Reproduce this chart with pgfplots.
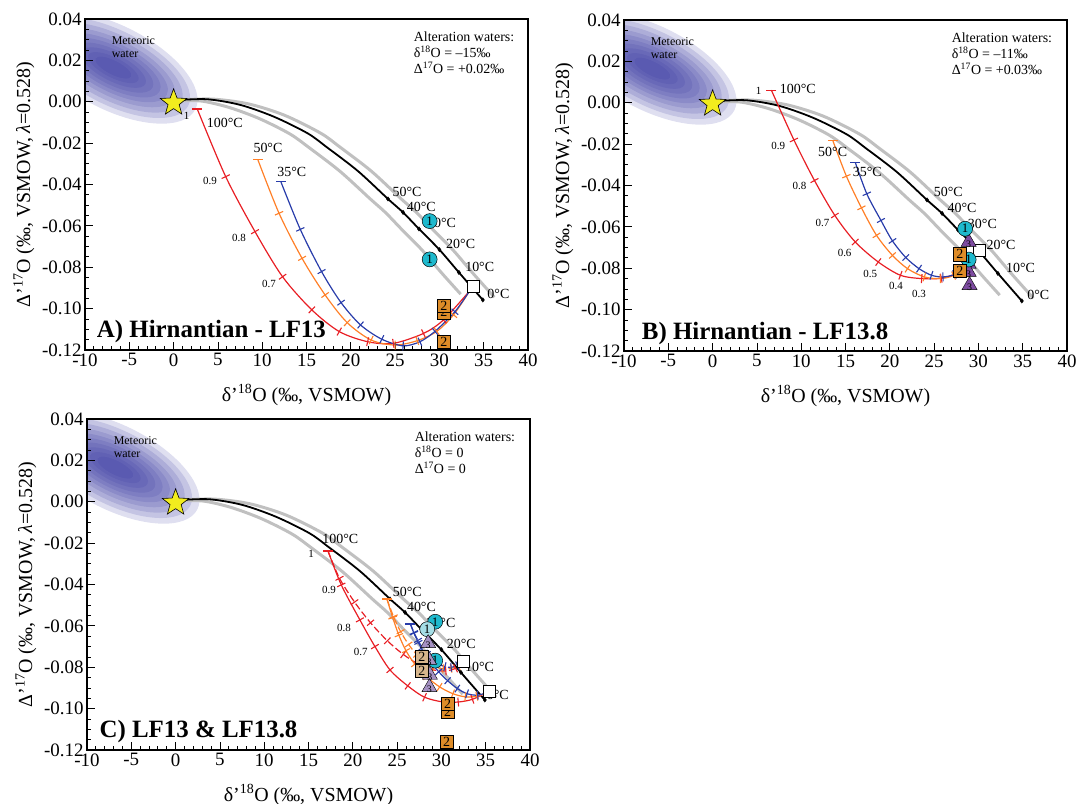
\documentclass[border=0pt]{standalone}
\usepackage{fontspec}
\setmainfont{Liberation Serif}
\usepackage{pgfplots}
\pgfplotsset{compat=1.18}

\definecolor{redl}{RGB}{232,30,36}
\definecolor{orangel}{RGB}{255,127,39}
\definecolor{bluel}{RGB}{40,60,170}
\definecolor{grayl}{RGB}{192,192,192}
\definecolor{cyanM}{RGB}{30,185,205}
\definecolor{cyanL}{RGB}{165,222,230}
\definecolor{orangeM}{RGB}{222,140,40}
\definecolor{tanM}{RGB}{215,182,140}
\definecolor{purpM}{RGB}{125,75,160}
\definecolor{purpL}{RGB}{165,145,195}
\definecolor{starY}{RGB}{242,236,30}
\definecolor{meteo}{RGB}{55,55,160}

\pgfdeclareplotmark{fstar}{%
  \pgfpathmoveto{\pgfpointpolar{90}{\pgfplotmarksize}}%
  \pgfpathlineto{\pgfpointpolar{126}{0.42\pgfplotmarksize}}%
  \pgfpathlineto{\pgfpointpolar{162}{\pgfplotmarksize}}%
  \pgfpathlineto{\pgfpointpolar{198}{0.42\pgfplotmarksize}}%
  \pgfpathlineto{\pgfpointpolar{234}{\pgfplotmarksize}}%
  \pgfpathlineto{\pgfpointpolar{270}{0.42\pgfplotmarksize}}%
  \pgfpathlineto{\pgfpointpolar{306}{\pgfplotmarksize}}%
  \pgfpathlineto{\pgfpointpolar{342}{0.42\pgfplotmarksize}}%
  \pgfpathlineto{\pgfpointpolar{18}{\pgfplotmarksize}}%
  \pgfpathlineto{\pgfpointpolar{54}{0.42\pgfplotmarksize}}%
  \pgfpathclose\pgfusepathqfillstroke}
\pgfdeclareplotmark{cone}{%
  \pgfpathcircle{\pgfpointorigin}{\pgfplotmarksize}\pgfusepathqfillstroke
  \pgftext{\fontsize{13}{13}\selectfont 1}}
\pgfdeclareplotmark{stwo}{%
  \pgfpathrectanglecorners{\pgfpoint{-\pgfplotmarksize}{-\pgfplotmarksize}}{\pgfpoint{\pgfplotmarksize}{\pgfplotmarksize}}\pgfusepathqfillstroke
  \pgftext{\fontsize{14}{14}\selectfont 2}}
\pgfdeclareplotmark{tthree}{%
  \pgfpathmoveto{\pgfpointpolar{90}{1.25\pgfplotmarksize}}%
  \pgfpathlineto{\pgfpointpolar{210}{1.25\pgfplotmarksize}}%
  \pgfpathlineto{\pgfpointpolar{330}{1.25\pgfplotmarksize}}%
  \pgfpathclose\pgfusepathqfillstroke
  \pgftext[at={\pgfpoint{0pt}{-0.3\pgfplotmarksize}}]{\fontsize{10}{10}\selectfont 3}}

\tikzset{
  tlab/.style={font=\fontsize{14}{14}\selectfont, inner sep=0pt, anchor=west},
  flab/.style={font=\fontsize{11}{11}\selectfont, inner sep=0pt},
  blobl/.style={meteo, fill opacity=0.16, draw=none, rotate around={-27:(axis cs:-6.8,0.0165)}},
}
\pgfplotsset{
  panel/.style={
    width=443bp, height=331bp, scale only axis, axis on top,
    xmin=-10, xmax=40, ymin=-0.12, ymax=0.04,
    xtick={-10,-5,...,40}, ytick={-0.12,-0.1,-0.08,-0.06,-0.04,-0.02,0,0.02,0.04},
    minor x tick num=4, minor y tick num=3,
    tick align=inside, xtick pos=left, ytick pos=left,
    major tick length=8bp, minor tick length=4bp,
    scaled y ticks=false,
    yticklabel style={/pgf/number format/.cd, fixed, fixed zerofill, precision=2},
    /pgf/number format/assume math mode=true,
    tick label style={font=\fontsize{19}{19}\selectfont},
    axis line style={line width=1.2pt},
    every tick/.style={black, line width=0.8pt},
    xlabel={δ’\textsuperscript{18}O (‰, VSMOW)},
    ylabel={Δ’\textsuperscript{17}O (‰, VSMOW, \textit{λ}=0.528)},
    label style={font=\fontsize{20}{20}\selectfont},
    x label style={at={(axis description cs:0.5,-0.136)}, anchor=center},
    y label style={at={(axis description cs:-0.138,0.5)}, anchor=center},
  },
  mixline/.style={line width=1.2pt, smooth},
  mixcap/.style={only marks, mark=-, mark size=5, mark options={line width=1.2pt}},
  mixtick/.style={only marks, mark=|, mark size=4.5, mark options={line width=1.1pt},
    point meta=explicit symbolic, scatter,
    scatter/@pre marker code/.code={\pgfscope\pgftransformrotate{\pgfplotspointmeta}},
    scatter/@post marker code/.code={\endpgfscope}},
}

\newcommand{\blob}{%
  \begin{scope}
  \clip (axis cs:-10,-0.12) rectangle (axis cs:40,0.04);
  \fill[blobl] (axis cs:-6.8,0.0165) ellipse (92bp and 42bp);
  \fill[blobl] (axis cs:-6.8,0.0165) ellipse (84bp and 37bp);
  \fill[blobl] (axis cs:-6.8,0.0165) ellipse (76bp and 32.5bp);
  \fill[blobl] (axis cs:-6.8,0.0165) ellipse (68bp and 28bp);
  \fill[blobl] (axis cs:-6.8,0.0165) ellipse (60bp and 24bp);
  \fill[blobl] (axis cs:-6.8,0.0165) ellipse (52bp and 20.5bp);
  \fill[blobl] (axis cs:-6.8,0.0165) ellipse (44bp and 17bp);
  \fill[blobl] (axis cs:-6.8,0.0165) ellipse (36bp and 13.5bp);
  \fill[blobl] (axis cs:-6.8,0.0165) ellipse (28bp and 10bp);
  \fill[blobl] (axis cs:-6.8,0.0165) ellipse (20bp and 7bp);
  \end{scope}
  \node[anchor=west, inner sep=0pt, font=\fontsize{12}{12}\selectfont] at (axis cs:-7.0,0.0295) {Meteoric};
  \node[anchor=west, inner sep=0pt, font=\fontsize{12}{12}\selectfont] at (axis cs:-7.0,0.0229) {water};
}
\newcommand{\eqlines}{%
  \addplot[grayl, line width=3pt, smooth] coordinates {(0.5,0.0008)(4.3,0.0013)(8.4,-0.0010)(12.5,-0.0065)(16.6,-0.0152)(18.8,-0.022)(22.3,-0.0335)(25.7,-0.047)(27.4,-0.0535)(29.2,-0.0615)(31.5,-0.0715)(33.7,-0.0825)(36.2,-0.0945)};
  \addplot[grayl, line width=3pt, smooth] coordinates {(0.5,0.0005)(3.2,0.0003)(6.3,-0.0028)(9.7,-0.0082)(13.1,-0.0155)(15.3,-0.0222)(18.8,-0.0337)(22.2,-0.047)(23.9,-0.0535)(25.7,-0.0615)(28.0,-0.0715)(30.2,-0.0825)(32.4,-0.093)};
  \addplot[black, line width=1.8pt, smooth] coordinates {(0.5,0.0008)(3.8,0.0012)(7.5,-0.0015)(11.3,-0.0072)(15.1,-0.0152)(17.3,-0.022)(20.8,-0.0335)(24.2,-0.047)(25.9,-0.0535)(27.7,-0.0615)(30.0,-0.0715)(32.2,-0.0825)(34.9,-0.0958)};
  \addplot[black, only marks, mark=diamond*, mark size=2.2] coordinates {(24.2,-0.047)(25.9,-0.0535)(27.7,-0.0615)(30.0,-0.0715)(32.2,-0.0825)(34.9,-0.0958)};
}
\newcommand{\templabels}[6]{%
  \node[tlab] at (axis cs:#1) {50°C};
  \node[tlab] at (axis cs:#2) {40°C};
  \node[tlab] at (axis cs:#3) {30°C};
  \node[tlab] at (axis cs:#4) {20°C};
  \node[tlab] at (axis cs:#5) {10°C};
  \node[tlab] at (axis cs:#6) {0°C};
}
\newcommand{\starmark}{%
  \addplot[black, only marks, mark=fstar, mark size=14, mark options={fill=starY, line width=0.6pt}] coordinates {(0,-0.0005)};
}

\begin{document}
\begin{tikzpicture}[x=1bp,y=1bp]
\path[use as bounding box] (0,0) rectangle (1083,804);

%================ A =================
\begin{axis}[panel, at={(85bp,454bp)}, anchor=south west]
\blob
\eqlines
\templabels{24.7,-0.0435}{26.3,-0.051}{28.6,-0.0584}{30.75,-0.0689}{32.9,-0.0797}{35.4,-0.0929}
% red 100C
\addplot[redl, mixline] coordinates {(2.67,-0.0035)(5.88,-0.0362)(9.19,-0.0628)(12.3,-0.0846)(15.6,-0.1006)(18.7,-0.1111)(21.9,-0.116)(24.8,-0.1168)(28.2,-0.112)(30.45,-0.1055)(33.4,-0.0915)};
\addplot[redl, mixcap] coordinates {(2.67,-0.0035)};
\addplot[redl, mixtick] coordinates {(5.88,-0.0362)[-64.8] (9.19,-0.0628)[-60.4] (12.3,-0.0846)[-54] (15.6,-0.1006)[-44] (18.7,-0.1111)[-29.7] (21.9,-0.116)[-12.3] (24.8,-0.1168)[8.4] (28.2,-0.112)[25] (30.45,-0.1055)[42.8]};
% orange 50C
\addplot[orangel, mixline] coordinates {(9.49,-0.0278)(11.9,-0.0539)(14.5,-0.0757)(17.1,-0.0934)(19.6,-0.1068)(22.3,-0.1152)(25.0,-0.1176)(27.5,-0.1155)(29.7,-0.111)(31.6,-0.103)(33.4,-0.0915)};
\addplot[orangel, mixcap] coordinates {(9.49,-0.0278)};
\addplot[orangel, mixtick] coordinates {(11.9,-0.0539)[-65.9] (14.5,-0.0757)[-60.6] (17.1,-0.0934)[-54.9] (19.6,-0.1068)[-44.4] (22.3,-0.1152)[-25] (25.0,-0.1176)[-0.7] (27.5,-0.1155)[18] (29.7,-0.111)[35.4] (31.6,-0.103)[49.7]};
% blue 35C
\addplot[bluel, mixline] coordinates {(12.1,-0.0386)(14.3,-0.0617)(16.7,-0.0821)(18.9,-0.0971)(21.1,-0.1079)(23.5,-0.1148)(25.9,-0.118)(27.8,-0.116)(29.5,-0.111)(31.75,-0.1015)(33.4,-0.0915)};
\addplot[bluel, mixcap] coordinates {(12.1,-0.0386)};
\addplot[bluel, mixtick] coordinates {(14.3,-0.0617)[-65.6] (16.7,-0.0821)[-60.9] (18.9,-0.0971)[-53.9] (21.1,-0.1079)[-41.9] (23.5,-0.1148)[-26.1] (25.9,-0.118)[-3.8] (27.8,-0.116)[24.4] (29.5,-0.111)[40.6] (31.75,-0.1015)[48.2]};
\node[flab] at (axis cs:1.48,-0.0069) {1};
\node[flab] at (axis cs:4.11,-0.0382) {0.9};
\node[flab] at (axis cs:7.38,-0.066) {0.8};
\node[flab] at (axis cs:10.77,-0.0882) {0.7};
\node[tlab] at (axis cs:3.73,-0.0104) {100°C};
\node[tlab] at (axis cs:9.0,-0.0225) {50°C};
\node[tlab] at (axis cs:11.7,-0.0338) {35°C};
\addplot[black, only marks, mark=square*, mark size=6, mark options={fill=white, line width=0.6pt}] coordinates {(33.8,-0.0894)};
\addplot[black, only marks, mark=cone, mark size=7.5, mark options={fill=cyanM, line width=0.5pt}] coordinates {(28.9,-0.0577)(28.9,-0.0762)};
\addplot[black, only marks, mark=stwo, mark size=6.7, mark options={fill=orangeM, line width=0.5pt}] coordinates {(30.5,-0.1018)(30.5,-0.0986)(30.5,-0.116)};
\starmark
\node[anchor=north west, align=left, inner sep=0pt, font=\fontsize{14}{16}\selectfont] at (axis cs:27.1,0.0337) {Alteration waters:\\ δ\textsuperscript{18}O = –15‰\\ Δ\textsuperscript{17}O = +0.02‰};
\node[anchor=base west, inner sep=0pt, font=\fontsize{25}{25}\selectfont\bfseries] at (axis cs:-8.68,-0.1142) {A) Hirnantian - LF13};
\end{axis}

%================ B =================
\begin{axis}[panel, at={(624bp,453bp)}, anchor=south west]
\blob
\eqlines
\templabels{24.95,-0.0432}{26.5,-0.0508}{28.8,-0.0588}{30.9,-0.0686}{33.1,-0.0799}{35.5,-0.093}
\addplot[redl, mixline] coordinates {(6.63,0.0061)(9.18,-0.018)(11.5,-0.0376)(13.8,-0.0545)(16.1,-0.0673)(18.7,-0.077)(21.2,-0.0834)(23.6,-0.085)(25.8,-0.0848)(27.9,-0.0815)(30.1,-0.0713)};
\addplot[redl, mixcap] coordinates {(6.63,0.0061)};
\addplot[redl, mixtick] coordinates {(9.18,-0.018)[-64.5] (11.5,-0.0376)[-61.6] (13.8,-0.0545)[-56.5] (16.1,-0.0673)[-47] (18.7,-0.077)[-36.4] (21.2,-0.0834)[-20.9] (23.6,-0.085)[-4] (25.8,-0.0848)[10.8] (27.9,-0.0815)[36]};
\addplot[orangel, mixline] coordinates {(13.57,-0.0183)(15.1,-0.0355)(16.8,-0.0508)(18.5,-0.0641)(20.3,-0.0738)(22.0,-0.0802)(23.9,-0.0842)(25.7,-0.085)(27.2,-0.0835)(28.7,-0.079)(30.1,-0.0713)};
\addplot[orangel, mixcap] coordinates {(13.57,-0.0183)};
\addplot[orangel, mixtick] coordinates {(15.1,-0.0355)[-66.9] (16.8,-0.0508)[-63] (18.5,-0.0641)[-56.9] (20.3,-0.0738)[-47] (22.0,-0.0802)[-34] (23.9,-0.0842)[-16.9] (25.7,-0.085)[2.9] (27.2,-0.0835)[25] (28.7,-0.079)[44.4]};
\addplot[bluel, mixline] coordinates {(16.1,-0.0288)(17.4,-0.044)(19.0,-0.0569)(20.3,-0.0668)(21.8,-0.0748)(23.3,-0.0802)(24.7,-0.0834)(26.0,-0.0842)(27.3,-0.083)(28.6,-0.079)(30.1,-0.0713)};
\addplot[bluel, mixcap] coordinates {(16.1,-0.0288)};
\addplot[bluel, mixtick] coordinates {(17.4,-0.044)[-66.1] (19.0,-0.0569)[-61.4] (20.3,-0.0668)[-56.1] (21.8,-0.0748)[-46.3] (23.3,-0.0802)[-34.6] (24.7,-0.0834)[-19] (26.0,-0.0842)[2] (27.3,-0.083)[25] (28.6,-0.079)[44.3]};
\node[flab] at (axis cs:5.2,0.0058) {1};
\node[flab] at (axis cs:7.4,-0.0207) {0.9};
\node[flab] at (axis cs:9.8,-0.04) {0.8};
\node[flab] at (axis cs:12.4,-0.0582) {0.7};
\node[flab] at (axis cs:14.9,-0.0726) {0.6};
\node[flab] at (axis cs:17.8,-0.0829) {0.5};
\node[flab] at (axis cs:20.7,-0.0887) {0.4};
\node[flab] at (axis cs:23.3,-0.0922) {0.3};
\node[tlab] at (axis cs:7.57,0.0066) {100°C};
\node[tlab] at (axis cs:11.9,-0.024) {50°C};
\node[tlab] at (axis cs:15.8,-0.0336) {35°C};
\addplot[black, only marks, mark=square*, mark size=6, mark options={fill=white, line width=0.6pt}] coordinates {(30.1,-0.0713)};
\addplot[black, only marks, mark=tthree, mark size=7, mark options={fill=purpM, line width=0.4pt}] coordinates {(28.9,-0.0673)(28.9,-0.078)(28.9,-0.0818)(29.0,-0.0882)};
\addplot[black, only marks, mark=cone, mark size=7.5, mark options={fill=cyanM, line width=0.5pt}] coordinates {(28.5,-0.0609)(28.9,-0.0758)};
\addplot[black, only marks, mark=stwo, mark size=6.7, mark options={fill=orangeM, line width=0.5pt}] coordinates {(27.9,-0.0733)(27.9,-0.0813)};
\starmark
\node[anchor=north west, align=left, inner sep=0pt, font=\fontsize{14}{16}\selectfont] at (axis cs:26.97,0.0337) {Alteration waters:\\ δ\textsuperscript{18}O = –11‰\\ Δ\textsuperscript{17}O = +0.03‰};
\node[anchor=base west, inner sep=0pt, font=\fontsize{25}{25}\selectfont\bfseries] at (axis cs:-8.0,-0.1144) {B) Hirnantian - LF13.8};
\end{axis}

%================ C =================
\begin{axis}[panel, at={(87bp,54bp)}, anchor=south west]
\blob
\eqlines
\templabels{24.5,-0.0435}{26.1,-0.051}{28.3,-0.0587}{30.6,-0.0689}{32.65,-0.0797}{35.1,-0.0934}
% red solid / dashed
\addplot[redl, mixline] coordinates {(17.2,-0.0238)(18.7,-0.0402)(20.8,-0.0571)(22.5,-0.07)(24.2,-0.0813)(26.2,-0.089)(28.1,-0.0945)(30.2,-0.0968)(31.9,-0.0968)(33.5,-0.0955)(35.3,-0.0918)};
\addplot[redl, mixtick] coordinates {(18.7,-0.0402)[-65.1] (20.8,-0.0571)[-61.3] (22.5,-0.07)[-58.8] (24.2,-0.0813)[-50] (26.2,-0.089)[-38.2] (28.1,-0.0945)[-24.4] (30.2,-0.0968)[-8] (31.9,-0.0968)[5.2] (33.5,-0.0955)[18.8]};
\addplot[redl, mixline, dash pattern=on 7pt off 3pt] coordinates {(17.2,-0.0238)(18.5,-0.037)(20.2,-0.0485)(22.0,-0.0585)(23.9,-0.0672)(25.7,-0.0738)(27.4,-0.0785)(29.0,-0.0812)(30.5,-0.0818)(31.6,-0.0805)(32.5,-0.0775)};
\addplot[redl, mixtick] coordinates {(18.5,-0.037)[-62.4] (20.2,-0.0485)[-55] (22.0,-0.0585)[-49.6] (23.9,-0.0672)[-43.9] (25.7,-0.0738)[-36.9] (27.4,-0.0785)[-27.5] (29.0,-0.0812)[-13.9] (30.5,-0.0818)[3.5] (31.6,-0.0805)[26.6]};
\addplot[redl, mixcap] coordinates {(17.2,-0.0238)};
% orange solid / dashed
\addplot[orangel, mixline] coordinates {(23.85,-0.047)(24.5,-0.056)(25.2,-0.0645)(26.0,-0.072)(27.0,-0.0785)(28.3,-0.0845)(29.8,-0.0895)(31.3,-0.0928)(32.7,-0.0943)(34.0,-0.094)(35.3,-0.092)};
\addplot[orangel, mixtick] coordinates {(24.5,-0.056)[-71.7] (25.2,-0.0645)[-68] (26.0,-0.072)[-61.1] (27.0,-0.0785)[-51.6] (28.3,-0.0845)[-42.5] (29.8,-0.0895)[-32.8] (31.3,-0.0928)[-21] (32.7,-0.0943)[-5.9] (34.0,-0.094)[11.7]};
\addplot[orangel, mixline, dash pattern=on 7pt off 3pt] coordinates {(23.85,-0.047)(24.6,-0.0555)(25.4,-0.0628)(26.3,-0.069)(27.2,-0.0738)(28.2,-0.0775)(29.2,-0.0798)(30.2,-0.0808)(31.1,-0.0805)(31.9,-0.0795)(32.5,-0.0775)};
\addplot[orangel, mixtick] coordinates {(24.6,-0.0555)[-67.1] (25.4,-0.0628)[-61.6] (26.3,-0.069)[-54.9] (27.2,-0.0738)[-46.2] (28.2,-0.0775)[-34.9] (29.2,-0.0798)[-20.9] (30.2,-0.0808)[-4.7] (31.1,-0.0805)[10.1] (31.9,-0.0795)[26.4]};
\addplot[orangel, mixcap] coordinates {(23.85,-0.047)};
% blue solid / dashed
\addplot[bluel, mixline] coordinates {(26.5,-0.0591)(26.9,-0.0635)(27.4,-0.068)(28.0,-0.0728)(28.8,-0.0775)(29.7,-0.0822)(30.7,-0.0865)(31.8,-0.0903)(32.9,-0.0928)(34.1,-0.0935)(35.3,-0.092)};
\addplot[bluel, mixtick] coordinates {(26.9,-0.0635)[-66.5] (27.4,-0.068)[-63] (28.0,-0.0728)[-57.6] (28.8,-0.0775)[-52.1] (29.7,-0.0822)[-47.8] (30.7,-0.0865)[-41.9] (31.8,-0.0903)[-33.6] (32.9,-0.0928)[-17.9] (34.1,-0.0935)[4.5]};
\addplot[bluel, mixline, dash pattern=on 7pt off 3pt] coordinates {(26.5,-0.0591)(26.9,-0.0632)(27.35,-0.067)(27.85,-0.0705)(28.4,-0.0737)(29.0,-0.0763)(29.7,-0.0785)(30.4,-0.0797)(31.1,-0.08)(31.8,-0.0792)(32.5,-0.0775)};
\addplot[bluel, mixtick] coordinates {(26.9,-0.0632)[-65] (27.35,-0.067)[-60.6] (27.85,-0.0705)[-56.2] (28.4,-0.0737)[-49.6] (29.0,-0.0763)[-40.5] (29.7,-0.0785)[-29.2] (30.4,-0.0797)[-13.9] (31.1,-0.08)[4.6] (31.8,-0.0792)[22.6]};
\addplot[bluel, mixcap] coordinates {(26.5,-0.0591)};
\node[flab] at (axis cs:15.3,-0.025) {1};
\node[flab] at (axis cs:17.3,-0.0427) {0.9};
\node[flab] at (axis cs:19.0,-0.0612) {0.8};
\node[flab] at (axis cs:20.9,-0.0725) {0.7};
\node[tlab] at (axis cs:16.55,-0.0182) {100°C};
\addplot[black, only marks, mark=square*, mark size=6, mark options={fill=white, line width=0.6pt}] coordinates {(32.5,-0.0773)(35.4,-0.0915)};
\addplot[black, only marks, mark=cone, mark size=7.5, mark options={fill=cyanM, line width=0.5pt}] coordinates {(29.3,-0.058)(29.3,-0.0768)};
\addplot[black, only marks, mark=cone, mark size=7.5, mark options={fill=cyanL, line width=0.5pt}] coordinates {(28.4,-0.0616)};
\addplot[black, only marks, mark=tthree, mark size=7, mark options={fill=purpL, line width=0.4pt}] coordinates {(28.5,-0.0684)(28.6,-0.0765)(28.7,-0.0837)(28.65,-0.0897)};
\addplot[black, only marks, mark=stwo, mark size=6.7, mark options={fill=tanM, line width=0.5pt}] coordinates {(27.8,-0.0749)(27.8,-0.0817)};
\addplot[black, only marks, mark=stwo, mark size=6.7, mark options={fill=orangeM, line width=0.5pt}] coordinates {(30.7,-0.1015)(30.7,-0.0978)(30.6,-0.116)};
\starmark
\node[anchor=north west, align=left, inner sep=0pt, font=\fontsize{14}{16}\selectfont] at (axis cs:26.97,0.0337) {Alteration waters:\\ δ\textsuperscript{18}O = 0\\ Δ\textsuperscript{17}O = 0};
\node[anchor=base west, inner sep=0pt, font=\fontsize{25}{25}\selectfont\bfseries] at (axis cs:-8.6,-0.1138) {C) LF13 \& LF13.8};
\end{axis}
\end{tikzpicture}
\end{document}
